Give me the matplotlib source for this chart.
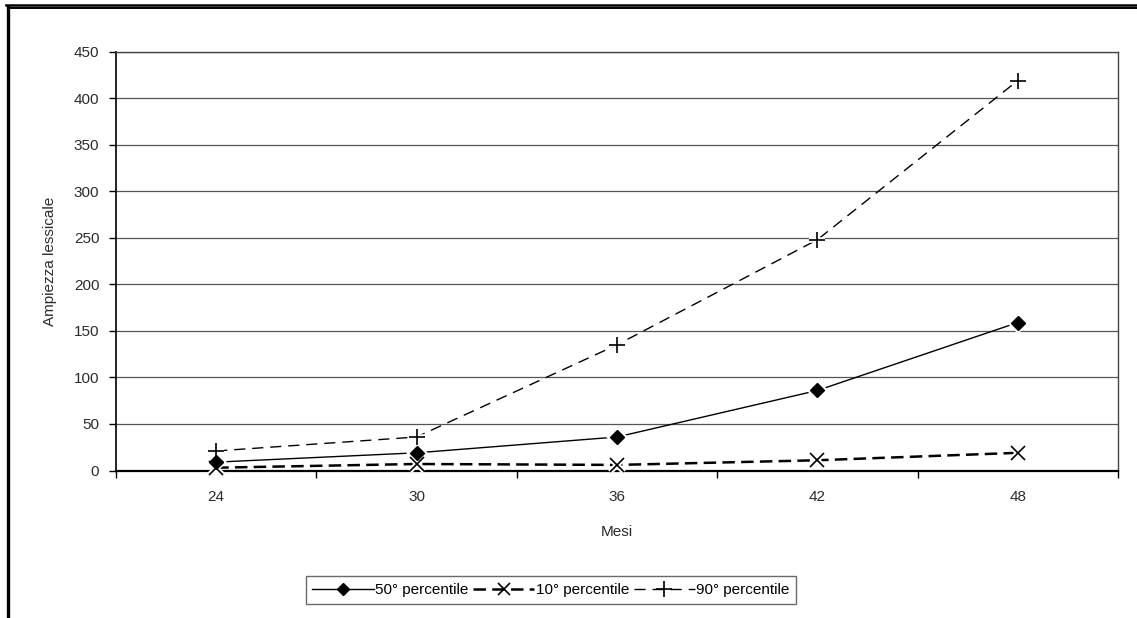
import matplotlib
matplotlib.use("Agg")
import matplotlib.pyplot as plt
from matplotlib.lines import Line2D

months = ["24", "30", "36", "42", "48"]
p50 = [9, 19, 36, 86, 159]
p10 = [3, 7, 6, 11, 19]
p90 = [21, 36, 135, 248, 419]
yticks = [0, 50, 100, 150, 200, 250, 300, 350, 400, 450]
labels = ["50° percentile", "10° percentile", "90° percentile"]

plt.rcParams['font.family'] = ['Liberation Sans', 'DejaVu Sans']
TXT = '#2b2b2b'

W, H = 1137, 618
fig = plt.figure(figsize=(W / 100, H / 100), dpi=100)
ax = fig.add_axes([116 / W, 1 - 470.5 / H, (1118 - 116) / W, (470.5 - 51.7) / H])

x = list(range(len(months)))
styles = [
    dict(ls='-', lw=1.0, marker='D', ms=7, mew=1.0),
    dict(ls=(0, (5, 2.5)), lw=1.8, marker='x', ms=10, mew=1.2),
    dict(ls=(0, (8, 5)), lw=1.0, marker='+', ms=12, mew=1.2),
]
handles = []
for y, st, lab in zip([p50, p10, p90], styles, labels):
    ax.plot(x, y, color='black', ls=st['ls'], lw=st['lw'], zorder=3, clip_on=False)
    ax.plot(x, y, ls='none', marker=st['marker'], ms=st['ms'], mew=4,
            color='white', mec='white', zorder=4, clip_on=False)
    ax.plot(x, y, ls='none', marker=st['marker'], ms=st['ms'], mew=st['mew'],
            color='black', zorder=5, clip_on=False)
    handles.append(Line2D([], [], color='black', ls=st['ls'], lw=st['lw'],
                          marker=st['marker'], ms=st['ms'] - 1, mew=st['mew'], label=lab))

ax.set_xlim(-0.5, len(months) - 0.5)
ax.set_ylim(0, 450)
ax.set_yticks(yticks)
ax.set_xticks(x)
ax.set_xticklabels(months)
ax.set_xticks([i - 0.5 for i in range(len(months) + 1)], minor=True)
ax.tick_params(axis='x', which='major', length=0, pad=14, labelsize=11, colors=TXT)
ax.tick_params(axis='x', which='minor', length=5, width=1, color='black')
ax.tick_params(axis='y', length=5, width=1, labelsize=11, pad=7, colors=TXT)
ax.tick_params(axis='y', color='black')
ax.yaxis.grid(True, color='#555555', lw=0.9)
ax.set_axisbelow(True)
for s in ['top', 'right']:
    ax.spines[s].set_color('#444444')
    ax.spines[s].set_linewidth(1.0)
ax.spines['left'].set_color('black')
ax.spines['left'].set_linewidth(1.2)
ax.spines['bottom'].set_color('black')
ax.spines['bottom'].set_linewidth(1.6)

ax.set_xlabel('Mesi', fontsize=11, labelpad=15, color=TXT)
ax.set_ylabel('Ampiezza lessicale', fontsize=11, labelpad=12, color=TXT)

leg = fig.legend(handles=handles, loc='center', bbox_to_anchor=(551 / W, 1 - 590 / H),
                 ncol=3, frameon=True, fancybox=False, edgecolor='#444444', fontsize=11,
                 handlelength=4.0, handletextpad=0.1, columnspacing=0.3,
                 borderpad=0.45, borderaxespad=0)
leg.get_frame().set_linewidth(1.0)

# outer frame
fig.add_artist(Line2D([6 / W, 1], [1 - 5 / H, 1 - 5 / H], color='black', lw=1.8,
                      transform=fig.transFigure))
fig.add_artist(Line2D([9 / W, 1], [1 - 8.3 / H, 1 - 8.3 / H], color='black', lw=1.4,
                      transform=fig.transFigure))
fig.add_artist(Line2D([7.5 / W, 7.5 / W], [1 - 7 / H, 0], color='black', lw=2.4,
                      transform=fig.transFigure))

fig.savefig("out.png", dpi=100)
